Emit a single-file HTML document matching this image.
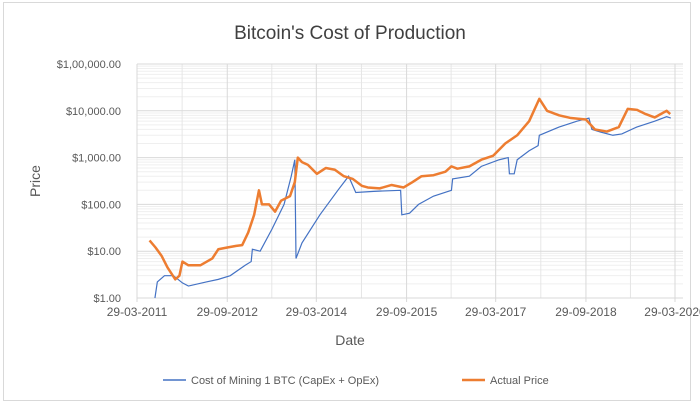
<!DOCTYPE html>
<html><head><meta charset="utf-8"><style>
body{margin:0;background:#fff;}
svg{display:block;font-family:"Liberation Sans",sans-serif;}
</style></head><body>
<svg id="chart" width="700" height="405">
<rect x="3.5" y="2.5" width="687" height="398" fill="#fff" stroke="#d9d9d9"/>
<text x="350" y="39" text-anchor="middle" font-size="19" fill="#404040">Bitcoin's Cost of Production</text>
<g id="grid"></g>
<g id="series"></g>
<g id="axes"></g>
<text x="350" y="345" text-anchor="middle" font-size="14" fill="#595959">Date</text>
<text transform="translate(40,181) rotate(-90)" text-anchor="middle" font-size="14" fill="#595959">Price</text>
<g>
<line x1="163" y1="380" x2="186" y2="380" stroke="#4472c4" stroke-width="1.5"/>
<text x="191" y="384" font-size="11" fill="#595959">Cost of Mining 1 BTC (CapEx + OpEx)</text>
<line x1="462" y1="380" x2="485" y2="380" stroke="#ed7d31" stroke-width="2.5"/>
<text x="490" y="384" font-size="11" fill="#595959">Actual Price</text>
</g>
</svg>
<script>
const xTickLabels=["29-03-2011","29-09-2012","29-03-2014","29-09-2015","29-03-2017","29-09-2018","29-03-2020"];
const xTickYears=[2011.24,2012.75,2014.24,2015.75,2017.24,2018.75,2020.24];
const yTickLabels=["$1.00","$10.00","$100.00","$1,000.00","$10,000.00","$1,00,000.00"];
const yTickValues=[1,10,100,1000,10000,100000];
const priceDates=[2011.45,2011.55,2011.65,2011.75,2011.88,2011.95,2012.0,2012.1,2012.3,2012.5,2012.6,2012.75,2012.9,2013.0,2013.1,2013.2,2013.28,2013.33,2013.45,2013.55,2013.65,2013.8,2013.88,2013.93,2014.0,2014.1,2014.25,2014.4,2014.55,2014.7,2014.85,2015.0,2015.1,2015.3,2015.5,2015.7,2015.85,2016.0,2016.2,2016.4,2016.5,2016.6,2016.8,2017.0,2017.2,2017.4,2017.6,2017.8,2017.97,2018.1,2018.3,2018.5,2018.75,2018.9,2019.1,2019.3,2019.45,2019.6,2019.75,2019.9,2020.0,2020.1,2020.16];
const priceValues=[17,12,8,4.5,2.5,3,6,5,5,7,11,12,13,13.5,25,60,200,100,100,70,120,150,300,1000,800,700,450,600,550,400,350,250,230,220,260,230,300,400,420,500,650,580,650,900,1100,2000,3000,6000,18000,10000,8000,7000,6500,4000,3600,4500,11000,10500,8500,7200,8500,10000,8500];
const costDates=[2011.54,2011.58,2011.7,2011.85,2012.0,2012.1,2012.4,2012.6,2012.8,2013.05,2013.15,2013.17,2013.3,2013.5,2013.7,2013.82,2013.88,2013.9,2014.0,2014.3,2014.6,2014.78,2014.85,2014.9,2015.2,2015.65,2015.67,2015.8,2015.95,2016.2,2016.5,2016.52,2016.8,2017.0,2017.3,2017.45,2017.47,2017.55,2017.6,2017.8,2017.95,2017.97,2018.3,2018.6,2018.8,2018.85,2019.0,2019.2,2019.35,2019.6,2019.9,2020.1,2020.17];
const costValues=[1,2.2,3,3,2.1,1.8,2.2,2.5,3,5,6,11,10,30,100,400,900,7,15,60,200,400,250,180,190,200,60,65,100,150,200,350,400,650,900,1000,450,450,900,1400,1800,3000,4500,6000,7000,4000,3500,3000,3200,4500,6000,7500,7000];
const X0=137,X1=675,Y0=298,Y1=64;
const xs=y=>X0+(y-2011.24)/(2020.24-2011.24)*(X1-X0);
const ys=v=>Y0-(Math.log10(v)-0)/5*(Y0-Y1);
const NS="http://www.w3.org/2000/svg";
function mk(t,a,p){const e=document.createElementNS(NS,t);for(const k in a)e.setAttribute(k,a[k]);p.appendChild(e);return e;}
const grid=document.getElementById('grid'),axes=document.getElementById('axes'),ser=document.getElementById('series');
for(let d=0;d<5;d++)for(let m=2;m<10;m++){const y=ys(m*Math.pow(10,d));
const l=mk('line',{x1:X0,x2:X1+8,y1:y,y2:y,stroke:'#efefef','stroke-width':1},grid);

}
for(let i=0;i<xTickYears.length-1;i++){const x=(xs(xTickYears[i])+xs(xTickYears[i+1]))/2;
const l=mk('line',{x1:x,x2:x,y1:Y1,y2:Y0,stroke:'#e6e6e6','stroke-width':1},grid);

}
yTickValues.forEach((v,i)=>{const y=ys(v);
const l=mk('line',{x1:X0,x2:X1+8,y1:y,y2:y,stroke:'#d9d9d9','stroke-width':1},grid);


const t=mk('text',{x:121,y:y+4,'text-anchor':'end','font-size':11,fill:'#595959'},axes);t.textContent=yTickLabels[i];

});
xTickYears.forEach((yr,i)=>{const x=xs(yr);
const l=mk('line',{x1:x,x2:x,y1:Y1,y2:Y0+4,stroke:'#d9d9d9','stroke-width':1},grid);


const t=mk('text',{x:x,y:Y0+18,'text-anchor':'middle','font-size':12,fill:'#595959'},axes);t.textContent=xTickLabels[i];

});
const c=mk('polyline',{points:costDates.map((d,i)=>xs(d)+','+ys(costValues[i])).join(' '),fill:'none',stroke:'#4472c4','stroke-width':1.2},ser);


const p=mk('polyline',{points:priceDates.map((d,i)=>xs(d)+','+ys(priceValues[i])).join(' '),fill:'none',stroke:'#ed7d31','stroke-width':2.5,'stroke-linejoin':'round'},ser);


</script>
</body></html>
